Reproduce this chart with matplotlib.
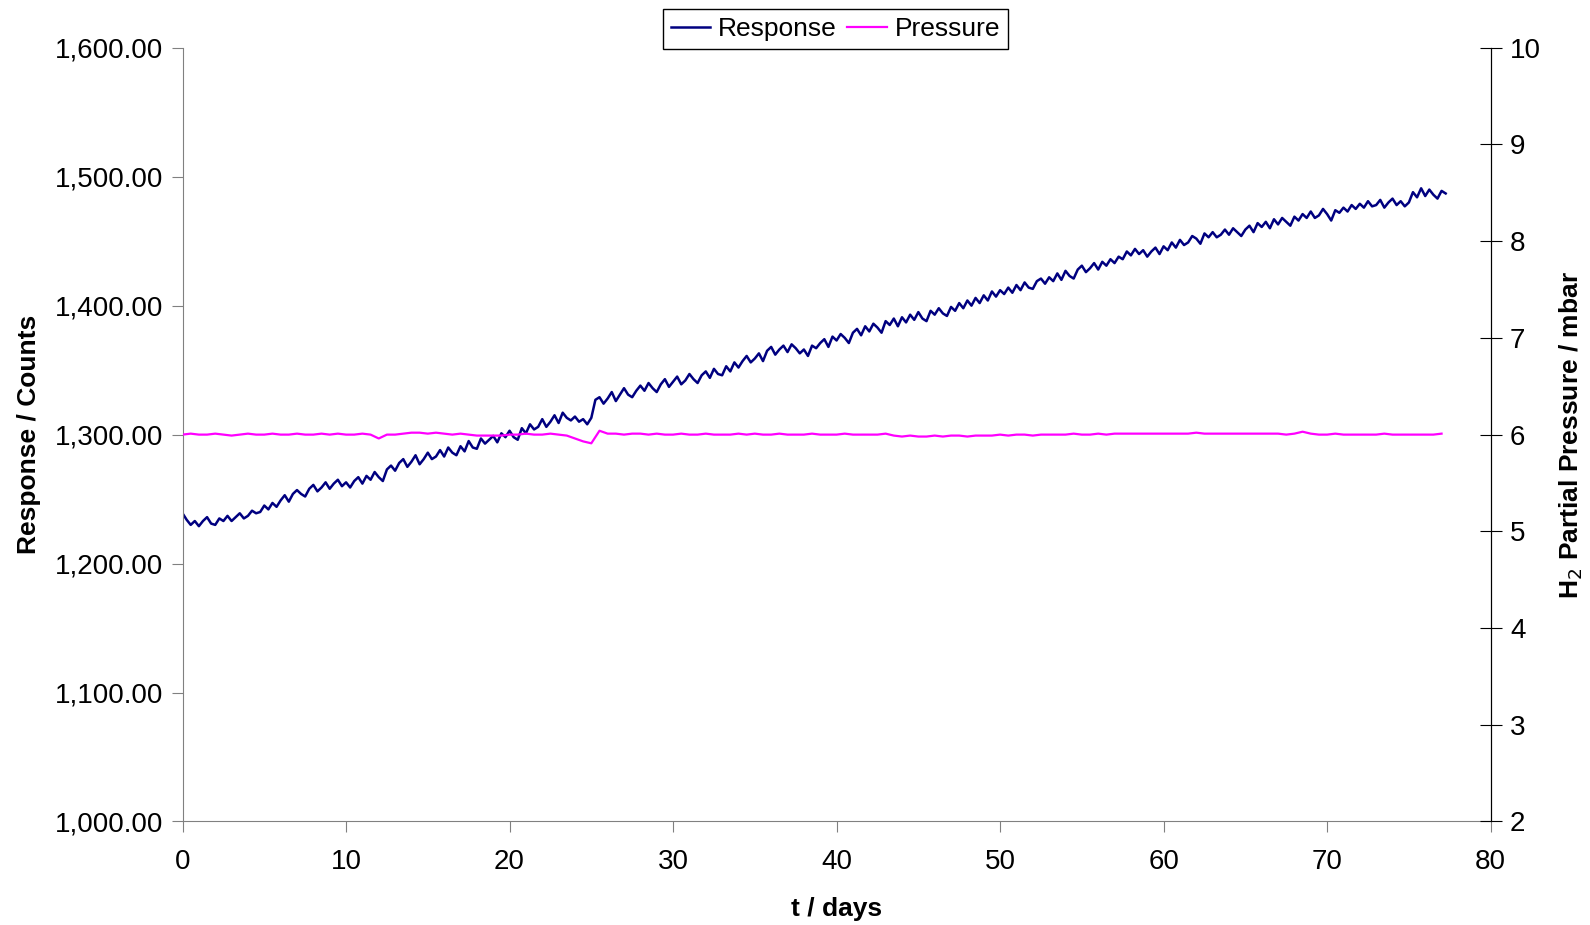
import matplotlib.pyplot as plt
import numpy as np
from matplotlib.ticker import FuncFormatter

plt.rcParams['font.family'] = ['Liberation Sans', 'DejaVu Sans']

# response, 4 samples per day (0.25 day step)
response = [
    1239, 1234, 1230, 1233, 1229, 1233, 1236, 1231, 1230, 1235, 1233, 1237,
    1233, 1236, 1239, 1235, 1237, 1241, 1239, 1240, 1245, 1242, 1247, 1244,
    1249, 1253, 1248, 1254, 1257, 1254, 1252, 1258, 1261, 1256, 1259, 1263,
    1258, 1262, 1265, 1260, 1263, 1259, 1264, 1267, 1262, 1268, 1265, 1271,
    1267, 1264, 1273, 1276, 1272, 1278, 1281, 1275, 1279, 1284, 1277, 1281,
    1286, 1281, 1283, 1288, 1283, 1290, 1286, 1284, 1291, 1287, 1295, 1290,
    1289, 1297, 1293, 1296, 1299, 1294, 1301, 1298, 1303, 1298, 1296, 1305,
    1301, 1308, 1304, 1306, 1312, 1306, 1310, 1315, 1309, 1317, 1313, 1311,
    1314, 1310, 1312, 1308, 1313, 1327, 1329, 1324, 1328, 1333, 1326, 1331,
    1336, 1331, 1329, 1334, 1338, 1334, 1340, 1336, 1333, 1339, 1343, 1337,
    1341, 1345, 1339, 1342, 1347, 1343, 1340, 1346, 1349, 1344, 1351, 1347,
    1346, 1353, 1349, 1356, 1352, 1357, 1361, 1356, 1359, 1363, 1357, 1365,
    1368, 1362, 1366, 1369, 1364, 1370, 1367, 1363, 1366, 1361, 1369, 1367,
    1371, 1374, 1368, 1376, 1373, 1378, 1375, 1371, 1379, 1382, 1377, 1384,
    1380, 1386, 1383, 1379, 1388, 1385, 1390, 1384, 1391, 1387, 1393, 1389,
    1395, 1390, 1388, 1396, 1393, 1398, 1394, 1392, 1399, 1396, 1402, 1398,
    1404, 1400, 1406, 1402, 1408, 1404, 1411, 1407, 1412, 1409, 1414, 1410,
    1416, 1412, 1418, 1414, 1413, 1419, 1421, 1417, 1422, 1419, 1425, 1420,
    1427, 1423, 1421, 1428, 1431, 1426, 1429, 1433, 1428, 1434, 1431, 1436,
    1433, 1438, 1436, 1442, 1439, 1444, 1440, 1443, 1438, 1442, 1445, 1440,
    1446, 1443, 1449, 1445, 1451, 1447, 1449, 1454, 1452, 1448, 1456, 1453,
    1457, 1453, 1455, 1459, 1455, 1460, 1457, 1454, 1459, 1462, 1457, 1464,
    1461, 1465, 1460, 1467, 1463, 1468, 1465, 1462, 1469, 1466, 1471, 1468,
    1473, 1468, 1470, 1475, 1471, 1466, 1474, 1472, 1476, 1473, 1478, 1475,
    1479, 1476, 1481, 1477, 1478, 1482, 1476, 1480, 1483, 1478, 1481, 1477,
    1480, 1488, 1484, 1491, 1485, 1490, 1486, 1483, 1489, 1487,
]
response_days = np.arange(len(response)) * 0.25

# H2 partial pressure, 2 samples per day (0.5 day step)
pressure = [
    6.00, 6.01, 6.00, 6.00, 6.01, 6.00, 5.99, 6.00, 6.01, 6.00,
    6.00, 6.01, 6.00, 6.00, 6.01, 6.00, 6.00, 6.01, 6.00, 6.01,
    6.00, 6.00, 6.01, 6.00, 5.96, 6.00, 6.00, 6.01, 6.02, 6.02,
    6.01, 6.02, 6.01, 6.00, 6.01, 6.00, 5.99, 5.99, 5.99, 5.99,
    6.00, 6.00, 6.01, 6.00, 6.00, 6.01, 6.00, 5.99, 5.96, 5.93,
    5.91, 6.04, 6.01, 6.01, 6.00, 6.01, 6.01, 6.00, 6.01, 6.00,
    6.00, 6.01, 6.00, 6.00, 6.01, 6.00, 6.00, 6.00, 6.01, 6.00,
    6.01, 6.00, 6.00, 6.01, 6.00, 6.00, 6.00, 6.01, 6.00, 6.00,
    6.00, 6.01, 6.00, 6.00, 6.00, 6.00, 6.01, 5.99, 5.98, 5.99,
    5.98, 5.98, 5.99, 5.98, 5.99, 5.99, 5.98, 5.99, 5.99, 5.99,
    6.00, 5.99, 6.00, 6.00, 5.99, 6.00, 6.00, 6.00, 6.00, 6.01,
    6.00, 6.00, 6.01, 6.00, 6.01, 6.01, 6.01, 6.01, 6.01, 6.01,
    6.01, 6.01, 6.01, 6.01, 6.02, 6.01, 6.01, 6.01, 6.01, 6.01,
    6.01, 6.01, 6.01, 6.01, 6.01, 6.00, 6.01, 6.03, 6.01, 6.00,
    6.00, 6.01, 6.00, 6.00, 6.00, 6.00, 6.00, 6.01, 6.00, 6.00,
    6.00, 6.00, 6.00, 6.00, 6.01,
]
pressure_days = np.arange(len(pressure)) * 0.5

fig = plt.figure(figsize=(15.9, 9.25), dpi=100)
ax = fig.add_axes([0.1148, 0.1119, 0.8227, 0.8365])
ax2 = ax.twinx()

l1, = ax.plot(response_days, response, color='#000080', lw=1.8, label='Response')
l2, = ax2.plot(pressure_days, pressure, color='#FF00FF', lw=1.6, label='Pressure')

ax.set_xlim(0, 80)
ax.set_ylim(1000, 1600)
ax.set_xticks(range(0, 81, 10))
ax.set_yticks(range(1000, 1601, 100))
ax.yaxis.set_major_formatter(FuncFormatter(lambda v, p: '{:,.2f}'.format(v)))
ax2.set_ylim(2, 10)
ax2.set_yticks(range(2, 11))

for a in (ax, ax2):
    a.spines['top'].set_visible(False)
ax.spines['left'].set_color('#808080')
ax.spines['bottom'].set_color('#808080')
ax2.spines['left'].set_visible(False)
ax2.spines['bottom'].set_visible(False)
ax2.spines['right'].set_color('black')

ax.tick_params(axis='both', labelsize=20, direction='out', length=8, color='#808080', pad=6)
ax.tick_params(axis='x', pad=12)
ax2.tick_params(axis='y', labelsize=20, direction='inout', length=16, pad=6)

ax.set_xlabel('t / days', fontsize=19, fontweight='bold', labelpad=16)
ax.set_ylabel('Response / Counts', fontsize=19, fontweight='bold', labelpad=10)
ax2.set_ylabel('H$_2$ Partial Pressure / mbar', fontsize=19, fontweight='bold', labelpad=12)

leg = fig.legend(handles=[l1, l2], loc='upper center', bbox_to_anchor=(0.5255, 1.004),
                 ncol=2, fontsize=19, frameon=True, fancybox=False, framealpha=1,
                 edgecolor='black', handlelength=1.5, handletextpad=0.3,
                 columnspacing=0.4, borderpad=0.3)
leg.get_frame().set_linewidth(1)

fig.savefig('out.png', dpi=100)
